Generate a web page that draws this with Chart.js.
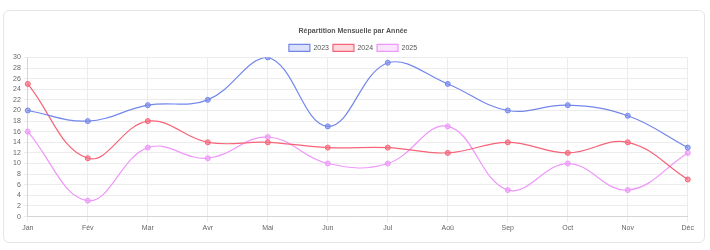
<!DOCTYPE html>
<html><head><meta charset="utf-8">
<script src="https://cdn.jsdelivr.net/npm/chart.js@4.4.0/dist/chart.umd.min.js"></script>
<style>
html,body{margin:0;padding:0;background:#fff;width:710px;height:250px;overflow:hidden;}
#card{position:absolute;left:3px;top:10px;width:700px;height:231px;border:1px solid #e6e6e6;border-radius:6px;background:#fff;}
#wrap{position:absolute;left:6px;top:10px;width:686px;height:213px;}
</style></head><body>
<div id="card"><div id="wrap"><canvas id="c"></canvas></div></div>
<script>
const months = ['Jan','Fév','Mar','Avr','Mai','Jun','Jul','Aoû','Sep','Oct','Nov','Déc'];
const years = ['2023','2024','2025'];
const values2023 = [20,18,21,22,30,17,29,25,20,21,19,13];
const values2024 = [25,11,18,14,14,13,13,12,14,12,14,7];
const values2025 = [16,3,13,11,15,10,10,17,5,10,5,12];
const yTicks = [0,2,4,6,8,10,12,14,16,18,20,22,24,26,28,30];

const colors = [
  {line:'rgb(115,135,235)', fill:'rgba(115,135,235,0.25)', pt:'rgba(115,135,235,0.6)'},
  {line:'rgb(245,100,120)', fill:'rgba(245,100,120,0.25)', pt:'rgba(245,100,120,0.6)'},
  {line:'rgb(238,150,250)', fill:'rgba(238,150,250,0.25)', pt:'rgba(238,150,250,0.6)'}
];
const series = [values2023, values2024, values2025];
const FONT = 'Liberation Sans, Arial, sans-serif';

const legendShrink = {
  id:'legendShrink',
  beforeLayout(chart){
    const lg = chart.legend;
    if (lg && !lg._wrapped){
      const f = lg.fit.bind(lg);
      lg.fit = function(){ f(); this.height = Math.max(0, this.height - 4); };
      lg._wrapped = true;
    }
  }
};

new Chart(document.getElementById('c'), {
  type:'line',
  data:{
    labels: months,
    datasets: series.map((v,i)=>({
      label: years[i],
      data: v,
      borderColor: colors[i].line,
      backgroundColor: colors[i].fill,
      pointBackgroundColor: colors[i].pt,
      pointBorderColor: colors[i].line,
      borderWidth: 1.2,
      pointRadius: 2.5,
      pointBorderWidth: 1,
      tension: 0.4,
      fill: false
    }))
  },
  plugins:[legendShrink],
  options:{
    responsive:true,
    maintainAspectRatio:false,
    animation:false,
    layout:{padding:0},
    plugins:{
      title:{display:true,text:'Répartition Mensuelle par Année',color:'#555',font:{family:FONT,size:7,weight:'bold'},padding:{top:6,bottom:5}},
      legend:{labels:{color:'#555',boxWidth:21,boxHeight:7,font:{family:FONT,size:7},padding:4}}
    },
    scales:{
      x:{
        grid:{color:'#ececec',tickLength:5},
        border:{color:'#d5d5d5'},
        ticks:{color:'#666',font:{family:FONT,size:7},padding:2,maxRotation:0}
      },
      y:{
        min:0,max:30,
        afterBuildTicks: ax => { ax.ticks = yTicks.map(v=>({value:v})); },
        grid:{color:'#ececec',tickLength:4},
        border:{color:'#d5d5d5'},
        ticks:{color:'#666',font:{family:FONT,size:7},padding:3,autoSkip:false}
      }
    }
  }
});
</script>
</body></html>
